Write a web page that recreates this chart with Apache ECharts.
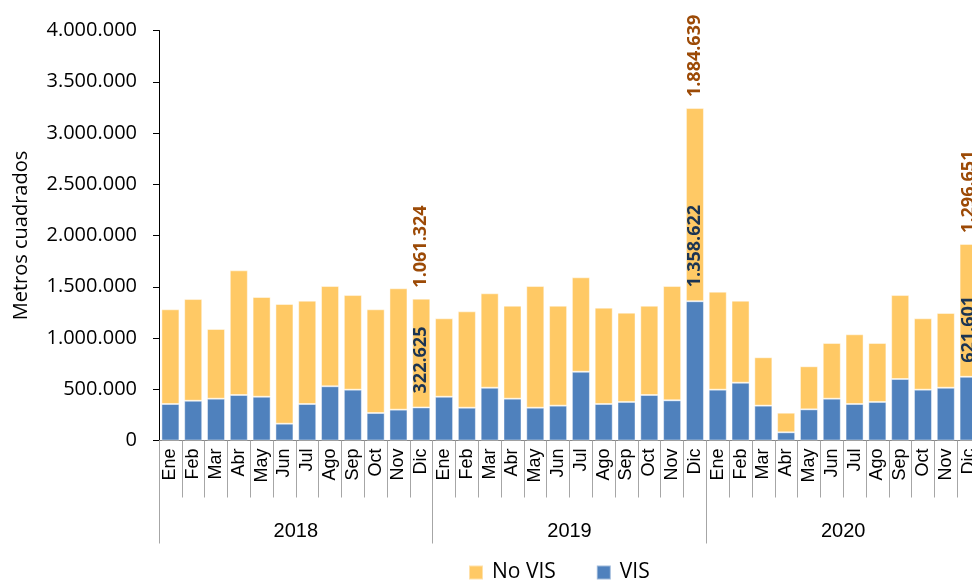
<!DOCTYPE html>
<html style="height: 100%; overflow: hidden">
<head>
<meta charset="utf-8">
<script src="https://cdn.jsdelivr.net/npm/echarts@6/dist/echarts.min.js"></script>
</head>
<body style="height: 100%; margin: 0; background: #fff; overflow: hidden">
<div id="container" style="width: 990px; height: 582px"></div>
<script type="text/javascript">
var meses = ['Ene', 'Feb', 'Mar', 'Abr', 'May', 'Jun', 'Jul', 'Ago', 'Sep', 'Oct', 'Nov', 'Dic'];
var anios = ['2018', '2019', '2020'];
var categorias = meses.concat(meses, meses);

// metros cuadrados licenciados por mes (2018-2020)
var vis = [356000, 388000, 408000, 444000, 427000, 164000, 356000, 529000, 496000, 268000, 301000, 322625,
	427000, 320000, 515000, 408000, 320000, 340000, 671000, 356000, 376000, 444000, 392000, 1358622,
	496000, 564000, 340000, 80000, 304000, 408000, 356000, 376000, 600000, 496000, 515000, 621601];
var noVis = [924000, 992000, 680000, 1216000, 973000, 1168000, 1008000, 978000, 923000, 1012000, 1184000, 1061324,
	765000, 940000, 921000, 907000, 1187000, 975000, 921000, 940000, 871000, 871000, 1115000, 1884639,
	956000, 800000, 472000, 191000, 420000, 543000, 680000, 575000, 819000, 696000, 729000, 1296651];
var conEtiqueta = [11, 23, 35];

function fmt(v) {
	return String(v).replace(/\B(?=(\d{3})+(?!\d))/g, '.');
}
function etiqueta(p) {
	return conEtiqueta.indexOf(p.dataIndex) >= 0 ? fmt(p.value) : '';
}

var dom = document.getElementById("container");
var myChart = echarts.init(dom);
var option = {
	backgroundColor: '#ffffff',
	animation: false,
	legend: {
		data: ['No VIS', 'VIS'],
		left: 463,
		top: 557,
		itemWidth: 14,
		itemHeight: 14,
		itemGap: 40,
		icon: 'rect',
		textStyle: {
			fontFamily: 'Open Sans',
			fontSize: 21,
			color: '#000',
			padding: [0, 0, 0, 4]
		}
	},
	grid: {
		left: 159,
		top: 30.5,
		width: 821,
		height: 410
	},
	xAxis: [{
		type: 'category',
		data: categorias,
		axisLine: { lineStyle: { color: '#868686' } },
		axisTick: { show: true, interval: 0, length: 57, lineStyle: { color: '#a6a6a6' } },
		axisLabel: {
			interval: 0,
			rotate: 90,
			margin: 8,
			fontFamily: 'Liberation Sans',
			fontSize: 18,
			color: '#000'
		}
	}, {
		type: 'category',
		data: anios,
		position: 'bottom',
		axisLine: { show: false },
		axisTick: { show: true, interval: 0, length: 103, lineStyle: { color: '#a6a6a6' } },
		axisLabel: {
			interval: 0,
			margin: 81,
			fontFamily: 'Liberation Sans',
			fontSize: 20,
			color: '#000'
		}
	}],
	yAxis: {
		type: 'value',
		min: 0,
		max: 4000000,
		interval: 500000,
		name: 'Metros cuadrados',
		nameLocation: 'middle',
		nameGap: 128,
		nameTextStyle: { fontFamily: 'Open Sans', fontSize: 20, color: '#000' },
		axisLine: { show: true, lineStyle: { color: '#000' } },
		axisTick: { show: true, length: 6, lineStyle: { color: '#000' } },
		splitLine: { show: false },
		axisLabel: {
			margin: 22,
			fontFamily: 'Open Sans',
			fontSize: 20,
			color: '#000',
			formatter: fmt
		}
	},
	series: [{
		name: 'VIS',
		type: 'bar',
		stack: 'total',
		barCategoryGap: '21%',
		data: vis,
		itemStyle: { color: '#4f81bd', borderColor: 'rgba(255,255,255,0.45)', borderWidth: 1 },
		label: {
			show: true,
			position: 'top',
			rotate: 90,
			distance: 14,
			align: 'left',
			verticalAlign: 'middle',
			fontFamily: 'Open Sans',
			fontWeight: 'bold',
			fontSize: 18,
			color: '#1b3453',
			formatter: etiqueta
		}
	}, {
		name: 'No VIS',
		type: 'bar',
		stack: 'total',
		data: noVis,
		itemStyle: { color: '#ffc965', borderColor: 'rgba(255,255,255,0.45)', borderWidth: 1 },
		label: {
			show: true,
			position: 'top',
			rotate: 90,
			distance: 11,
			align: 'left',
			verticalAlign: 'middle',
			fontFamily: 'Open Sans',
			fontWeight: 'bold',
			fontSize: 18,
			color: '#9c4a06',
			formatter: etiqueta
		}
	}]
};
myChart.setOption(option);
</script>
</body>
</html>
